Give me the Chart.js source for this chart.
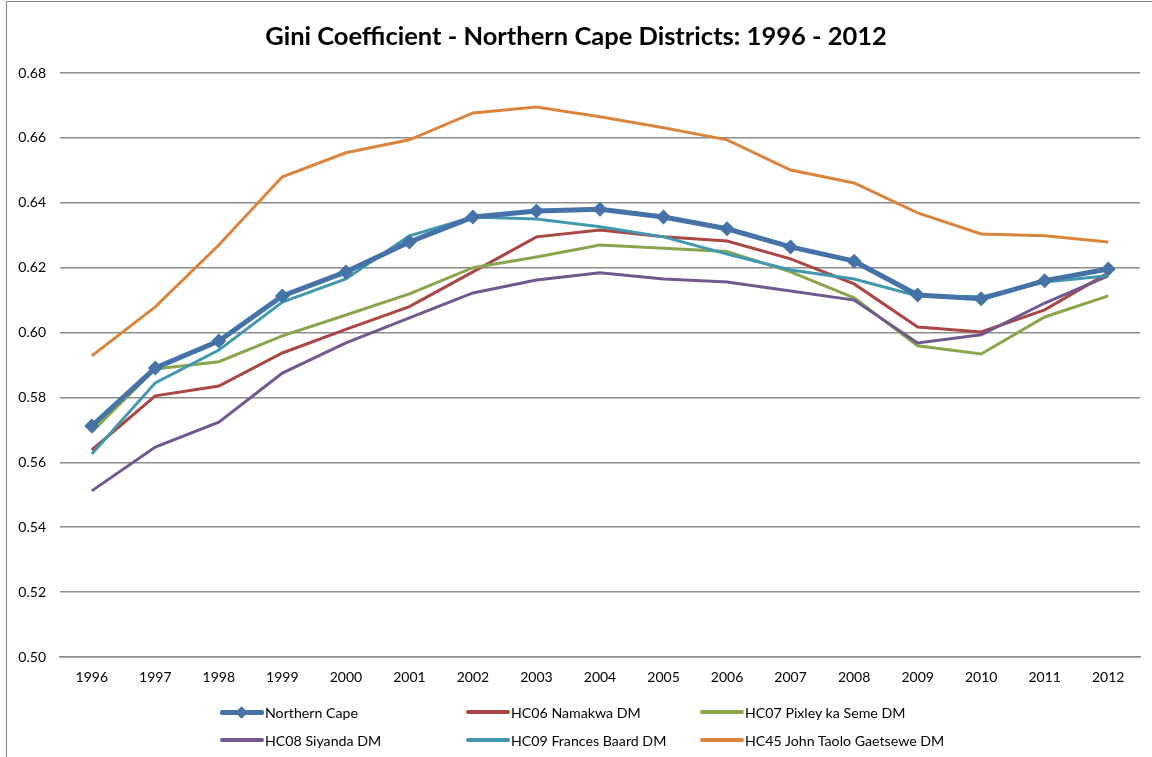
<!DOCTYPE html>
<html>
<head>
<meta charset="utf-8">
<script src="https://cdn.jsdelivr.net/npm/chart.js@4"></script>
<style>
  html, body { margin: 0; padding: 0; background: #fff; }
  #wrap { position: relative; width: 1152px; height: 757px; overflow: hidden; }
  #frame { position: absolute; left: 6px; top: 1px; width: 1160px; height: 780px; border: 1px solid #8a8a8a; box-sizing: border-box; pointer-events: none; }
  #title { position: absolute; left: 0; top: 20px; width: 1152px; text-align: center; font-family: Lato, "Open Sans", sans-serif; font-weight: bold; font-size: 25.5px; color: #000; }
  canvas { position: absolute; left: 0; top: 0; }
  #legend { position: absolute; left: 0; top: 0; font-family: Lato, "Open Sans", sans-serif; font-size: 14.2px; color: #000; }
  .li { position: absolute; display: flex; align-items: center; white-space: nowrap; }
  .sw { position: relative; width: 44px; height: 4px; margin-right: 1px; }
</style>
</head>
<body>
<div id="wrap">
  <canvas id="c" width="1152" height="757"></canvas>
  <div id="title">Gini Coefficient - Northern Cape Districts: 1996 - 2012</div>
  <div id="legend"></div>
  <div id="frame"></div>
</div>
<script>
const years = ["1996","1997","1998","1999","2000","2001","2002","2003","2004","2005","2006","2007","2008","2009","2010","2011","2012"];
const northernCape = [0.5712,0.5891,0.5974,0.6113,0.6187,0.6279,0.6356,0.6375,0.6380,0.6356,0.6320,0.6264,0.6220,0.6116,0.6104,0.6160,0.6196];
const namakwa      = [0.5638,0.5805,0.5835,0.5937,0.6010,0.6080,0.6187,0.6295,0.6316,0.6295,0.6282,0.6227,0.6150,0.6017,0.6002,0.6070,0.6184];
const pixley       = [0.5694,0.5888,0.5910,0.5990,0.6054,0.6119,0.6200,0.6233,0.6270,0.6260,0.6250,0.6187,0.6107,0.5959,0.5934,0.6048,0.6113];
const siyanda      = [0.5512,0.5647,0.5724,0.5875,0.5968,0.6045,0.6122,0.6162,0.6184,0.6165,0.6156,0.6128,0.6100,0.5968,0.5993,0.6091,0.6175];
const francesBaard = [0.5626,0.5845,0.5946,0.6094,0.6165,0.6298,0.6356,0.6350,0.6326,0.6295,0.6242,0.6193,0.6165,0.6113,0.6110,0.6156,0.6175];
const johnTaolo    = [0.5928,0.6079,0.6270,0.6480,0.6554,0.6594,0.6677,0.6695,0.6665,0.6631,0.6594,0.6501,0.6461,0.6369,0.6304,0.6298,0.6279];
const yTicks = [0.50,0.52,0.54,0.56,0.58,0.60,0.62,0.64,0.66,0.68];

const series = [
  { label: "Northern Cape", data: northernCape, color: "#4572A7", width: 5, marker: true },
  { label: "HC06 Namakwa DM", data: namakwa, color: "#AA4643", width: 3 },
  { label: "HC07 Pixley ka Seme DM", data: pixley, color: "#89A54E", width: 3 },
  { label: "HC08 Siyanda DM", data: siyanda, color: "#71588F", width: 3 },
  { label: "HC09 Frances Baard DM", data: francesBaard, color: "#4198AF", width: 3 },
  { label: "HC45 John Taolo Gaetsewe DM", data: johnTaolo, color: "#DB843D", width: 3 }
];
const datasets = series.map((s, i) => ({
  label: s.label,
  data: s.data,
  borderColor: s.color,
  backgroundColor: s.color,
  borderWidth: s.width,
  pointRadius: s.marker ? 7.5 : 0,
  pointStyle: s.marker ? 'rectRot' : 'circle',
  pointBorderWidth: 0,
  pointBackgroundColor: s.color,
  tension: 0,
  fill: false,
  order: s.marker ? 0 : (10 - i)
}));

new Chart(document.getElementById('c'), {
  type: 'line',
  data: { labels: years, datasets },
  options: {
    responsive: false,
    animation: false,
    layout: { padding: { top: 73, left: 0, right: 12, bottom: 0 } },
    plugins: { legend: { display: false }, title: { display: false }, tooltip: { enabled: false } },
    scales: {
      x: {
        offset: true,
        grid: { display: false, drawTicks: false },
        border: { display: true, color: '#8c8c8c', width: 1.5 },
        ticks: { padding: 12, color: '#000', font: { family: 'Lato, "Open Sans", sans-serif', size: 14 }, maxRotation: 0 },
        afterFit: (s) => { s.height = 100; }
      },
      y: {
        min: 0.50, max: 0.68,
        afterBuildTicks: (s) => { s.ticks = yTicks.map(v => ({ value: v })); },
        grid: { color: '#8c8c8c', lineWidth: 1.5, drawTicks: false },
        border: { display: false },
        ticks: { padding: 14, color: '#000', font: { family: 'Lato, "Open Sans", sans-serif', size: 14 }, callback: (v) => Number(v).toFixed(2) },
        afterFit: (s) => { s.width = 60; }
      }
    }
  }
});

const lg = document.getElementById('legend');
const colX = [220, 466, 700];
const rowY = [712, 740];
series.forEach((s, i) => {
  const d = document.createElement('div');
  d.className = 'li';
  d.style.left = colX[i % 3] + 'px';
  d.style.top = (rowY[Math.floor(i / 3)] - 10) + 'px';
  d.style.height = '20px';
  const sw = document.createElement('div');
  sw.className = 'sw';
  sw.style.background = s.color;
  sw.style.height = (s.marker ? 5 : 4) + 'px';
  sw.style.borderRadius = '2px';
  if (s.marker) {
    const m = document.createElement('div');
    m.style.cssText = 'position:absolute;left:17px;top:-2px;width:9px;height:9px;transform:rotate(45deg);background:' + s.color + ';';
    sw.appendChild(m);
  }
  d.appendChild(sw);
  const t = document.createElement('span');
  t.textContent = s.label;
  d.appendChild(t);
  lg.appendChild(d);
});
</script>
</body>
</html>
